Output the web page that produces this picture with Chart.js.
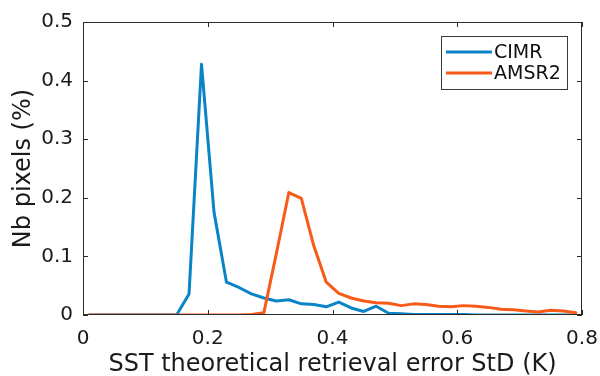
<!DOCTYPE html>
<html>
<head>
<meta charset="utf-8">
<script src="https://cdn.jsdelivr.net/npm/chart.js@4/dist/chart.umd.min.js"></script>
<style>
  html, body { margin: 0; padding: 0; background: #fff; }
  #wrap { width: 600px; height: 376px; }
</style>
</head>
<body>
<div id="wrap"><canvas id="chart" width="600" height="376"></canvas></div>
<script>
// ── Data (bin centres, % of pixels) ─────────────────────────────
const errBins = [
  0.01, 0.03, 0.05, 0.07, 0.09, 0.11, 0.13, 0.15, 0.17, 0.19,
  0.21, 0.23, 0.25, 0.27, 0.29, 0.31, 0.33, 0.35, 0.37, 0.39,
  0.41, 0.43, 0.45, 0.47, 0.49, 0.51, 0.53, 0.55, 0.57, 0.59,
  0.61, 0.63, 0.65, 0.67, 0.69, 0.71, 0.73, 0.75, 0.77, 0.79
];
const cimr = [
  0, 0, 0, 0, 0, 0, 0, 0, 0.036, 0.428,
  0.176, 0.056, 0.047, 0.036, 0.029, 0.024, 0.026, 0.019, 0.018, 0.014,
  0.022, 0.012, 0.006, 0.015, 0.003, 0.002, 0.001, 0.001, 0.001, 0.001,
  0.001, 0, 0, 0, 0, 0, 0, 0, 0, 0
];
const amsr2 = [
  0, 0, 0, 0, 0, 0, 0, 0, 0, 0,
  0, 0, 0, 0.001, 0.004, 0.105, 0.209, 0.199, 0.118, 0.056,
  0.037, 0.029, 0.024, 0.021, 0.020, 0.016, 0.019, 0.018, 0.015, 0.014,
  0.016, 0.015, 0.013, 0.010, 0.009, 0.007, 0.005, 0.008, 0.007, 0.004
];
const xTicks = [0, 0.2, 0.4, 0.6, 0.8];
const yTicks = [0, 0.1, 0.2, 0.3, 0.4, 0.5];

const BLUE   = '#0a84c6';
const ORANGE = '#f85a17';
const AXIS   = '#2b2b2b';
const FONT   = 'DejaVu Sans';

function pts(vals) {
  return errBins.map((x, i) => ({ x: x, y: vals[i] }));
}

// ── MATLAB-style box, inward ticks and framed legend ────────────
const matlabAxes = {
  id: 'matlabAxes',
  afterDraw(chart) {
    const ctx = chart.ctx;
    const a = chart.chartArea;
    const xs = chart.scales.x, ys = chart.scales.y;
    ctx.save();
    ctx.strokeStyle = AXIS;
    ctx.lineWidth = 1;
    ctx.strokeRect(a.left + 0.5, a.top + 0.5, a.right - a.left - 1, a.bottom - a.top - 1);
    const tl = 5;
    ctx.beginPath();
    xTicks.forEach(v => {
      const px = Math.round(xs.getPixelForValue(v)) + 0.5;
      ctx.moveTo(px, a.bottom); ctx.lineTo(px, a.bottom - tl);
      ctx.moveTo(px, a.top);    ctx.lineTo(px, a.top + tl);
    });
    yTicks.forEach(v => {
      const py = Math.round(ys.getPixelForValue(v)) + 0.5;
      ctx.moveTo(a.left, py);  ctx.lineTo(a.left + tl, py);
      ctx.moveTo(a.right, py); ctx.lineTo(a.right - tl, py);
    });
    ctx.stroke();

    // legend
    const lx = 441, ly = 36, lw = 126, lh = 53;
    ctx.fillStyle = '#fff';
    ctx.fillRect(lx, ly, lw, lh);
    ctx.strokeStyle = '#3a3a3a';
    ctx.strokeRect(lx + 0.5, ly + 0.5, lw, lh);
    ctx.font = '19px "' + FONT + '"';
    ctx.textBaseline = 'middle';
    chart.data.datasets.forEach((ds, i) => {
      const cy = ly + 16 + i * 21;
      ctx.strokeStyle = ds.borderColor;
      ctx.lineWidth = 3;
      ctx.beginPath();
      ctx.moveTo(lx + 5, cy); ctx.lineTo(lx + 51, cy);
      ctx.stroke();
      ctx.fillStyle = '#111';
      ctx.fillText(ds.label, lx + 53, cy + 1);
    });
    ctx.restore();
  }
};

new Chart(document.getElementById('chart'), {
  type: 'line',
  data: {
    datasets: [
      { label: 'CIMR',  data: pts(cimr),  borderColor: BLUE,   order: 2 },
      { label: 'AMSR2', data: pts(amsr2), borderColor: ORANGE, order: 1 }
    ]
  },
  options: {
    responsive: false,
    animation: false,
    devicePixelRatio: 1,
    layout: { padding: { top: 22, right: 18, left: 0, bottom: 0 } },
    elements: {
      line:  { borderWidth: 3, tension: 0, borderJoinStyle: 'round', borderCapStyle: 'round' },
      point: { radius: 0 }
    },
    plugins: {
      legend:  { display: false },
      tooltip: { enabled: false }
    },
    scales: {
      x: {
        type: 'linear', min: 0, max: 0.8,
        afterBuildTicks: s => { s.ticks = xTicks.map(v => ({ value: v })); },
        afterFit: s => { s.height = 61; s.paddingLeft = 0; s.paddingRight = 0; },
        grid:   { display: false, drawTicks: false },
        border: { display: false },
        ticks:  { color: '#1a1a1a', font: { family: FONT, size: 20 }, padding: 12,
                  callback: v => String(+v.toFixed(1)) },
        title:  { display: true, text: 'SST theoretical retrieval error StD (K)',
                  color: '#1a1a1a', font: { family: FONT, size: 24 }, padding: { top: 0, bottom: -3 } }
      },
      y: {
        type: 'linear', min: 0, max: 0.5,
        afterBuildTicks: s => { s.ticks = yTicks.map(v => ({ value: v })); },
        afterFit: s => { s.width = 83; s.paddingTop = 0; s.paddingBottom = 0; },
        grid:   { display: false, drawTicks: false },
        border: { display: false },
        ticks:  { color: '#1a1a1a', font: { family: FONT, size: 20 }, padding: 10,
                  callback: v => String(+v.toFixed(1)) },
        title:  { display: true, text: 'Nb pixels (%)',
                  color: '#1a1a1a', font: { family: FONT, size: 24 }, padding: { top: 9, bottom: 0 } }
      }
    }
  },
  plugins: [matlabAxes]
});
</script>
</body>
</html>
